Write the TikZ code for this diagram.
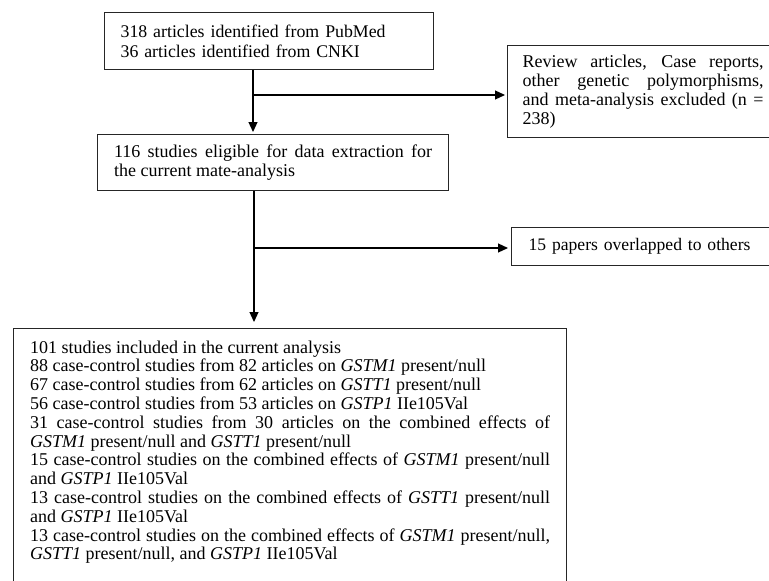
\documentclass[tikz,border=0pt]{standalone}
\usepackage{fontspec}
\setmainfont{Liberation Serif}
\usetikzlibrary{arrows.meta}
\setlength{\parindent}{0pt}

\begin{document}
\begin{tikzpicture}[x=1pt,y=-1pt,
	box/.style={draw=black!85,line width=1.2pt,anchor=north west,inner ysep=4pt,font=\fontsize{18}{18.8}\selectfont},
	arr/.style={line width=1.2pt,-{Triangle[length=10pt,width=9pt]}}]
	\useasboundingbox (0,0) rectangle (769,581);
	
	\node[box,inner xsep=16pt,text width=297pt,align=left,minimum height=57pt,font=\fontsize{17.8}{20}\selectfont] (src) at (104,12) {318 articles identified from PubMed\\36 articles identified from CNKI};
	\node[box,inner xsep=15pt,text width=241pt,align=justify,minimum height=92pt] (excl) at (507,45) {Review articles, Case reports,\linebreak other genetic polymorphisms,\linebreak and meta-analysis excluded (n =\linebreak 238)};
	\node[box,inner xsep=16.5pt,text width=318pt,align=justify,minimum height=56pt] (elig) at (97,134) {116 studies eligible for data extraction for\linebreak the current mate-analysis};
	\node[box,inner xsep=17pt,text width=260pt,align=left,minimum height=38pt,font=\fontsize{17.6}{18.8}\selectfont] (dup) at (511,227) {15 papers overlapped to others};
	\node[box,inner xsep=16.5pt,inner ysep=12pt,text width=520pt,align=justify] (incl) at (13,328) {101 studies included in the current analysis\par
		88 case-control studies from 82 articles on \textit{GSTM1} present/null\par
		67 case-control studies from 62 articles on \textit{GSTT1} present/null\par
		56 case-control studies from 53 articles on \textit{GSTP1} IIe105Val\par
		31 case-control studies from 30 articles on the combined effects of\linebreak \textit{GSTM1} present/null and \textit{GSTT1} present/null\par
		15 case-control studies on the combined effects of \textit{GSTM1} present/null\linebreak and \textit{GSTP1} IIe105Val\par
		13 case-control studies on the combined effects of \textit{GSTT1} present/null\linebreak and \textit{GSTP1} IIe105Val\par
		13 case-control studies on the combined effects of \textit{GSTM1} present/null,\linebreak \textit{GSTT1} present/null, and \textit{GSTP1} IIe105Val\rule[-30pt]{0pt}{30pt}};
	
	\coordinate (j1) at (253,95);
	\coordinate (j2) at (254,248);
	\draw[arr,shorten >=2pt] (src.south -| j1) -- (elig.north -| j1);
	\draw[arr,shorten >=2pt] (j1) -- (j1 -| excl.west);
	\draw[arr,shorten >=6pt] (elig.south -| j2) -- (incl.north -| j2);
	\draw[arr,shorten >=3pt] (j2) -- (j2 -| dup.west);
\end{tikzpicture}
\end{document}
